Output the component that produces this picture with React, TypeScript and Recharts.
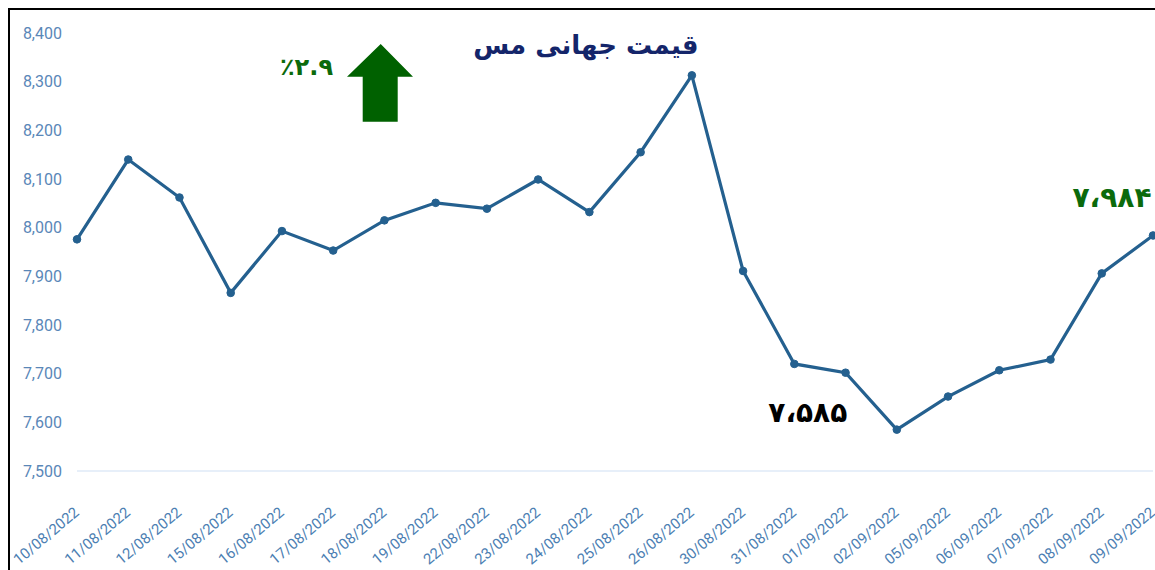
import React from "react";
import { LineChart, Line, XAxis, YAxis, LabelList } from "recharts";

const categories = [
  "10/08/2022", "11/08/2022", "12/08/2022", "15/08/2022", "16/08/2022", "17/08/2022",
  "18/08/2022", "19/08/2022", "22/08/2022", "23/08/2022", "24/08/2022", "25/08/2022",
  "26/08/2022", "30/08/2022", "31/08/2022", "01/09/2022", "02/09/2022", "05/09/2022",
  "06/09/2022", "07/09/2022", "08/09/2022", "09/09/2022",
];
const prices = [
  7976, 8140, 8062, 7866, 7993, 7953, 8015, 8051, 8039, 8099, 8032, 8155,
  8313, 7911, 7720, 7702, 7585, 7653, 7707, 7729, 7906, 7984,
];
const yTicks = [7500, 7600, 7700, 7800, 7900, 8000, 8100, 8200, 8300, 8400];
const titleText = "قیمت جهانی مس";
const changeText = "٪۲.۹";
const labelledIndexes = [16, 21];

const data = categories.map((c, i) => ({ date: c, price: prices[i] }));

const toPersian = (v: number) => {
  const s = v.toLocaleString("en-US");
  const map: Record<string, string> = {
    "0": "۰", "1": "۱", "2": "۲", "3": "۳", "4": "۴",
    "5": "۵", "6": "۶", "7": "۷", "8": "۸", "9": "۹", ",": "،",
  };
  return s.split("").map((ch) => map[ch] ?? ch).join("");
};

const XTick = (props: any) => {
  const { x, y, payload } = props;
  return (
    <g transform={`translate(${x + 3},${y + 35})`}>
      <text
        textAnchor="end"
        transform="rotate(-40)"
        fill="#4d7fb3"
        fontSize={15}
        fontFamily="Roboto, sans-serif"
      >
        {payload.value}
      </text>
    </g>
  );
};

const PointLabel = (props: any) => {
  const { x, y, index, value } = props;
  if (!labelledIndexes.includes(index)) return null;
  const isLast = index === prices.length - 1;
  const dx = isLast ? -41 : -89;
  const dy = isLast ? -38 : -17;
  return (
    <text
      x={x + dx}
      y={y + dy}
      textAnchor="middle"
      dominantBaseline="central"
      fill={isLast ? "#0b6a0b" : "#000000"}
      fontSize={28}
      fontWeight="bold"
      fontFamily="'DejaVu Sans', sans-serif"
      direction="ltr"
    >
      {toPersian(value)}
    </text>
  );
};

export default function App() {
  return (
    <div style={{ position: "relative", width: 1155, height: 570, overflow: "hidden", background: "#fff" }}>
      <style>{"html,body{margin:0;padding:0;overflow:hidden;}"}</style>
      <div
        style={{
          position: "absolute",
          left: 8,
          top: 8,
          width: 1147,
          height: 562,
          borderLeft: "2px solid #000",
          borderTop: "2px solid #000",
          boxSizing: "border-box",
        }}
      />
      <div style={{ position: "absolute", left: 8, top: 8, width: 1147, height: 562 }}>
        <LineChart
          width={1147}
          height={562}
          data={data}
          margin={{ top: 25, right: 2, bottom: 0, left: 0 }}
        >
          <XAxis
            dataKey="date"
            interval={0}
            tick={<XTick />}
            tickLine={false}
            axisLine={{ stroke: "#dfeaf7", strokeWidth: 1.5 }}
            height={99}
          />
          <YAxis
            domain={[7500, 8400]}
            ticks={yTicks}
            tickFormatter={(v: number) => v.toLocaleString("en-US")}
            axisLine={false}
            tickLine={false}
            tickSize={0}
            tickMargin={15}
            width={69}
            tick={{ fill: "#5a87b8", fontSize: 16, fontFamily: "Roboto, sans-serif" }}
          />
          <Line
            type="linear"
            dataKey="price"
            stroke="#24608f"
            strokeWidth={3.2}
            dot={{ r: 3.8, fill: "#24608f", stroke: "#24608f", strokeWidth: 1 }}
            isAnimationActive={false}
          >
            <LabelList dataKey="price" content={<PointLabel />} />
          </Line>
        </LineChart>
      </div>
      <svg
        width={1147}
        height={562}
        style={{ position: "absolute", left: 8, top: 8, pointerEvents: "none" }}
      >
        <text
          x={578}
          y={37}
          textAnchor="middle"
          dominantBaseline="central"
          fill="#14256a"
          fontSize={26}
          fontWeight="bold"
          fontFamily="'DejaVu Sans', sans-serif"
          direction="rtl"
        >
          {titleText}
        </text>
        <polygon
          points="372.7,36 405,68.7 389.7,68.7 389.7,113.7 354.7,113.7 354.7,68.7 339,68.7"
          fill="#006100"
        />
        <text
          x={298.5}
          y={59}
          textAnchor="middle"
          dominantBaseline="central"
          fill="#0b6a0b"
          fontSize={24}
          fontWeight="bold"
          fontFamily="'DejaVu Sans', sans-serif"
          direction="ltr"
        >
          {changeText}
        </text>
      </svg>
    </div>
  );
}
